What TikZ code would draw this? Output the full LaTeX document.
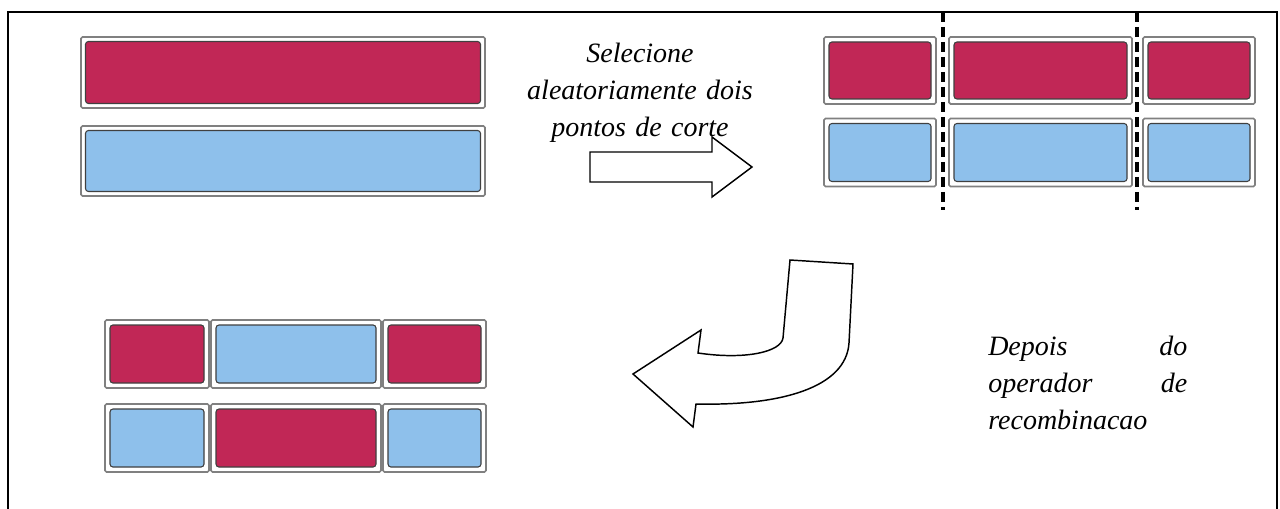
\documentclass[tikz,border=0pt]{standalone}
\usepackage{fontspec}
\setmainfont{Liberation Serif}
\definecolor{genered}{RGB}{193,39,86}
\definecolor{geneblue}{RGB}{142,192,235}
% one gene segment: grey frame with a coloured core inside
% #1 name, #2 centre x, #3 centre y, #4 width, #5 height, #6 inset, #7 colour
\newcommand\gene[7]{%
  \node[cellframe, minimum width=#4*0.75pt, minimum height=#5*0.75pt] (#1) at (#2,#3) {};
  \node[cellcore=#7, minimum width=(#4-#6)*0.75pt, minimum height=(#5-#6)*0.75pt] (#1in) at (#1.center) {};
}
\begin{document}
\begin{tikzpicture}[x=0.75pt, y=-0.75pt,
  cellframe/.style={draw=black!50, line width=1.2pt, fill=white, rounded corners=1.2pt, inner sep=0pt},
  cellcore/.style={draw=black!75, line width=0.8pt, fill=#1, rounded corners=2.2pt, inner sep=0pt},
  txt/.style={font=\itshape\fontsize{21}{27.75}\selectfont, inner sep=0pt},
  blockarrow/.style={draw=black, line width=1.1pt, fill=white, line join=miter},
  cutline/.style={line width=3pt, dash pattern=on 7.5pt off 3.75pt},
  frame/.style={line width=1.6pt}
]
\clip (0,0) rectangle (1280,509);
\fill[white] (0,0) rectangle (1280,509);

% outer frame (open at the bottom)
\draw[frame] (8,530) -- (8,12) -- (1277,12) -- (1277,530);

% parents
\gene{pa}{283}{72.5}{404}{71}{9}{genered}
\gene{pb}{283}{161}{404}{70}{9}{geneblue}

% parents with two cut points
\gene{ra1}{880}{70.5}{112}{67}{10}{genered}
\gene{ra2}{1040.5}{70.5}{183}{67}{10}{genered}
\gene{ra3}{1199}{70.5}{112}{67}{10}{genered}
\gene{rb1}{880}{152.5}{112}{68}{10}{geneblue}
\gene{rb2}{1040.5}{152.5}{183}{68}{10}{geneblue}
\gene{rb3}{1199}{152.5}{112}{68}{10}{geneblue}

\coordinate (cut1top) at (943,12);
\coordinate (cut1bot) at (943,210);
\coordinate (cut2top) at (1137,12);
\coordinate (cut2bot) at (1137,210);
\draw[cutline] (cut1top) -- (cut1bot);
\draw[cutline] (cut2top) -- (cut2bot);

% offspring
\gene{oa1}{157}{354}{104}{68}{10}{genered}
\gene{oa2}{296}{354}{170}{68}{10}{geneblue}
\gene{oa3}{434.5}{354}{103}{68}{10}{genered}
\gene{ob1}{157}{438}{104}{68}{10}{geneblue}
\gene{ob2}{296}{438}{170}{68}{10}{genered}
\gene{ob3}{434.5}{438}{103}{68}{10}{geneblue}

% straight block arrow
\draw[blockarrow] (590,152) -- (712,152) -- (712,137) -- (752,167)
  -- (712,197) -- (712,182) -- (590,182) -- cycle;

% bent block arrow
\draw[blockarrow] (790,260) -- (853,264) -- (849,343)
  .. controls (846,388) and (780,406) .. (696,404)
  -- (693,427) -- (633,374) -- (701,330) -- (698,353)
  .. controls (745,360) and (781,352) .. (783,338) -- cycle;

% labels
\node[txt, text width=260*0.75pt, align=center, anchor=base] (sel) at (640,63)
  {Selecione\\aleatoriamente dois\\pontos de corte};
\node[txt, text width=199*0.75pt, align=left, anchor=base west] (dep) at (988,355)
  {Depois\hfill do\\operador\hfill de\\recombinacao};
\end{tikzpicture}
\end{document}
